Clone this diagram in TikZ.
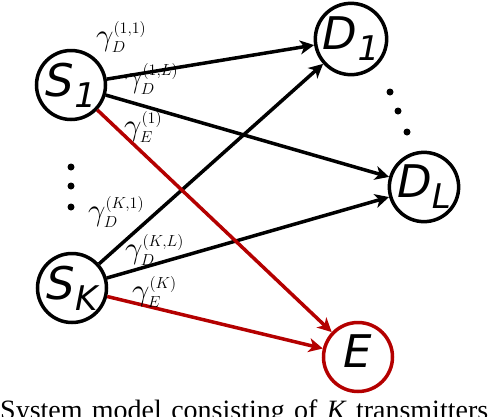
\RequirePackage{fix-cm}
\documentclass[tikz,border=0pt]{standalone}
\usepackage{fontspec}
\newfontfamily\nodefont{DejaVu Sans}
\newfontfamily\capfont{Liberation Serif}
\usetikzlibrary{arrows.meta}
\DeclareMathSizes{31}{31}{16}{12}
\definecolor{darkred}{RGB}{180,0,0}
\newcommand{\nlabel}[2]{{\nodefont\itshape #1\raisebox{-11pt}{\fontsize{34}{34}\selectfont #2}}}

\begin{document}
\begin{tikzpicture}[
  x=1pt, y=-1pt,
  station/.style={draw, circle, line width=3.5pt, minimum size=69pt, inner sep=0pt,
    font=\fontsize{45}{45}\selectfont},
  link/.style={line width=3.5pt, -{Stealth[length=14pt,width=14pt,inset=4pt]}},
  leak/.style={link, darkred},
  gain/.style={font=\fontsize{31}{36}\selectfont, inner sep=0pt, anchor=base west}
]
\useasboundingbox (0,0) rectangle (488,416);

\node[station] (s1) at (71,85) {\nlabel{S}{1}};
\node[station] (sk) at (72,288) {\nlabel{S}{K}};
\node[station] (d1) at (351,39) {\nlabel{D}{1}};
\node[station] (dl) at (424,187) {\nlabel{D}{L}};
\node[station, darkred] (e) at (358,357) {\color{black}\nlabel{E}{}};

\draw[link] (s1) -- (d1);
\draw[link] (s1) -- (dl);
\draw[link] (sk) -- (d1);
\draw[link] (sk) -- (dl);
\draw[leak] (s1) -- (e);
\draw[leak] (sk) -- (e);

\node[gain] (g11) at (96,45) {$\gamma_D^{(1,1)}$};
\node[gain] (g1l) at (125,87) {$\gamma_D^{(1,L)}$};
\node[gain] (g1e) at (124,135) {$\gamma_E^{(1)}$};
\node[gain] (gk1) at (88,220) {$\gamma_D^{(K,1)}$};
\node[gain] (gkl) at (125,258) {$\gamma_D^{(K,L)}$};
\node[gain] (gke) at (132,300) {$\gamma_E^{(K)}$};

% dots between the stations
\foreach \y in {167,186,207}
  \fill (71,\y) circle (3.5pt);
\fill (390,92) circle (3.5pt);
\fill (398,111) circle (3.5pt);
\fill (407,132) circle (3.5pt);

\node[anchor=base west, inner sep=0pt, font=\capfont\fontsize{28}{32}\selectfont] (cap)
  at (0,419) {\makebox[488pt][s]{System model consisting of \textit{K} transmitters}};
\end{tikzpicture}
\end{document}
